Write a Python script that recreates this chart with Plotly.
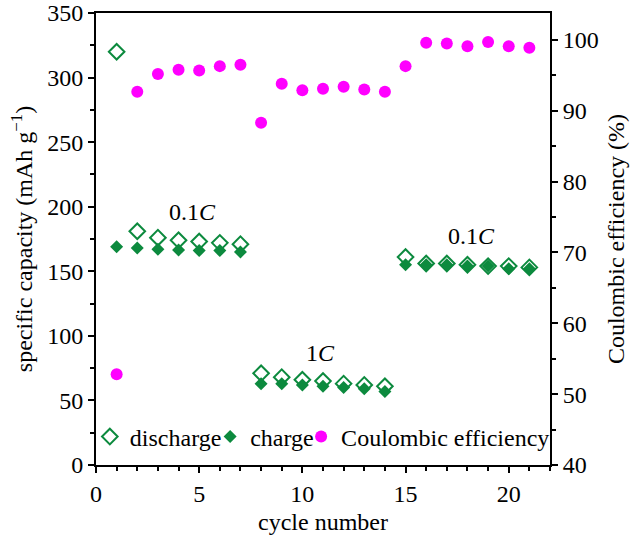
import plotly.graph_objects as go

cycles = list(range(1, 22))
discharge = [320, 181, 176, 174, 173, 172, 171,
             71, 68, 66, 65, 63, 62, 61,
             161, 156, 156, 155, 154, 154, 153]
charge = [169, 168, 167, 166.5, 166, 166, 165,
          63, 63, 62, 61, 60, 59, 57,
          155, 155, 155, 154, 154, 152, 152]
coulombic = [52.8, 92.7, 95.2, 95.8, 95.7, 96.3, 96.5,
             88.3, 93.8, 92.9, 93.1, 93.4, 93.0, 92.7,
             96.3, 99.6, 99.5, 99.1, 99.7, 99.1, 98.9]

GREEN = "#0c8a3e"
MAGENTA = "#ff00ff"
FONT = "Liberation Serif"
FS = 24

fig = go.Figure()
fig.add_trace(go.Scatter(
    x=cycles, y=discharge, mode="markers", name="discharge", legend="legend",
    marker=dict(symbol="diamond-open", size=12, color=GREEN, line=dict(width=2, color=GREEN)),
))
fig.add_trace(go.Scatter(
    x=cycles, y=charge, mode="markers", name="charge", legend="legend2",
    marker=dict(symbol="diamond", size=10, color=GREEN),
))
fig.add_trace(go.Scatter(
    x=cycles, y=coulombic, mode="markers", name="Coulombic efficiency", legend="legend3",
    marker=dict(symbol="circle", size=12, color=MAGENTA), yaxis="y2",
))

axis_common = dict(
    showline=True, linecolor="black", linewidth=2, showgrid=False, zeroline=False,
    ticks="outside", ticklen=6, tickwidth=1.5, tickcolor="black",
    ticklabeloverflow="allow",
    tickfont=dict(family=FONT, size=FS, color="black"),
)

leg_common = dict(
    orientation="h", y=0.062, xanchor="left", yanchor="middle",
    font=dict(family=FONT, size=24, color="black"), bgcolor="rgba(0,0,0,0)",
    borderwidth=0,
)

fig.update_layout(
    width=634, height=535,
    margin=dict(l=96, r=84, t=13, b=70),
    paper_bgcolor="white", plot_bgcolor="white",
    font=dict(family=FONT, size=FS, color="black"),
    xaxis=dict(
        range=[0, 22], tickvals=[0, 5, 10, 15, 20], mirror=True, automargin=False,
        minor=dict(dtick=1, tick0=0, ticks="outside", ticklen=4, tickcolor="black"),
        title=dict(text="cycle number", font=dict(family=FONT, size=FS)),
        **axis_common,
    ),
    yaxis=dict(
        range=[0, 350], tickvals=[0, 50, 100, 150, 200, 250, 300, 350], automargin="left",
        minor=dict(dtick=25, ticks="outside", ticklen=4, tickcolor="black"),
        title=dict(text="specific capacity (mAh g<sup>−1</sup>)", font=dict(family=FONT, size=FS), standoff=8),
        **axis_common,
    ),
    yaxis2=dict(
        overlaying="y", side="right", range=[40, 103.8], dtick=10, automargin="right",
        minor=dict(dtick=5, ticks="outside", ticklen=4, tickcolor="black"),
        title=dict(text="Coulombic efficiency (%)", font=dict(family=FONT, size=FS), standoff=9),
        **axis_common,
    ),
    legend=dict(x=-0.0136, **leg_common),
    legend2=dict(x=0.2514, **leg_common),
    legend3=dict(x=0.4518, **leg_common),
    showlegend=True,
    annotations=[
        dict(x=4.7, y=196, xref="x", yref="y", text="0.1<i>C</i>", showarrow=False,
             font=dict(family=FONT, size=FS)),
        dict(x=18.2, y=177, xref="x", yref="y", text="0.1<i>C</i>", showarrow=False,
             font=dict(family=FONT, size=FS)),
        dict(x=10.9, y=87, xref="x", yref="y", text="1<i>C</i>", showarrow=False,
             font=dict(family=FONT, size=FS)),
    ],
)

fig.write_html("out.html", config={"displayModeBar": False},
               post_script="document.body.style.margin='0';")
